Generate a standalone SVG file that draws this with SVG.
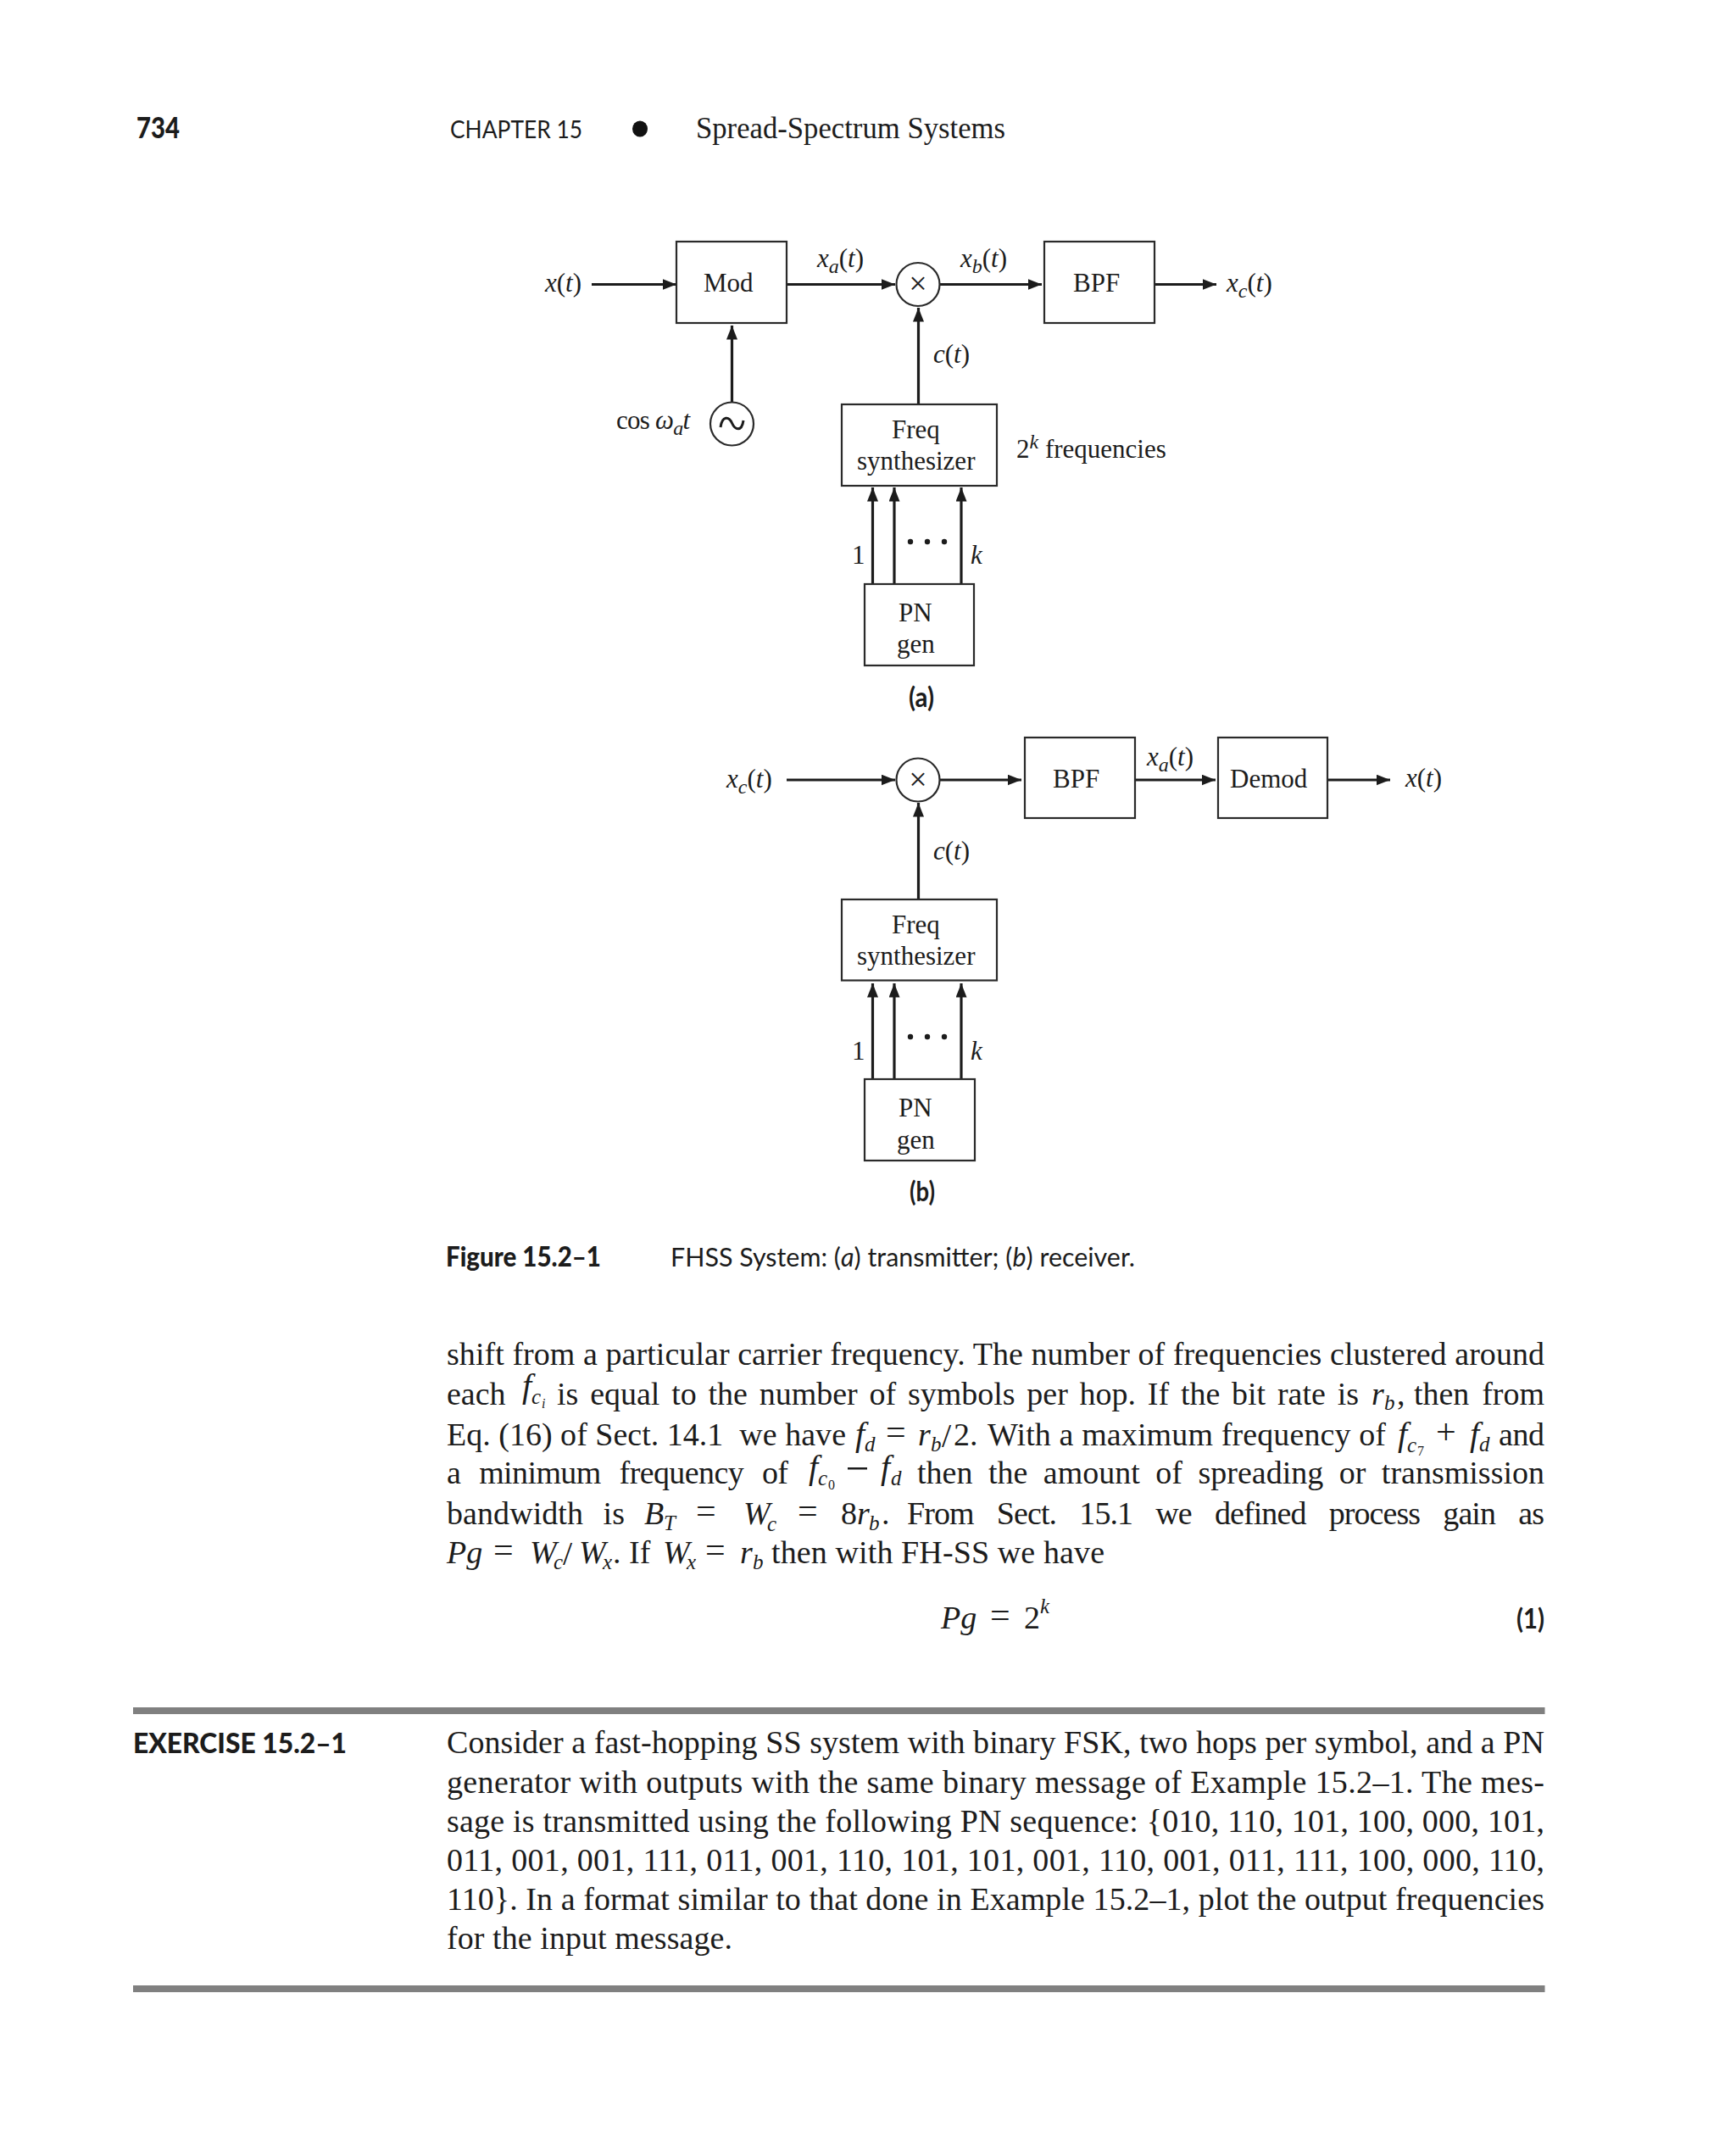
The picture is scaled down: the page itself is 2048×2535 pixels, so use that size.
<svg xmlns="http://www.w3.org/2000/svg" width="2048" height="2535" viewBox="0 0 2048 2535">
<style>
text{fill:#1c1c1c;font-family:"Liberation Serif","Times New Roman",serif;white-space:pre}
.d{font-size:31px}
.b{font-size:38px}
.i{font-style:italic}
.s{font-family:Lato,"Open Sans",sans-serif}
.sb{font-family:Lato,"Open Sans",sans-serif;font-weight:900}
.sub{font-size:24px;font-style:italic}
.bsub{font-size:25px;font-style:italic}
.f{font-size:40px;font-style:italic}
.ssub{font-size:16px;font-style:italic}
.ss0{font-size:16px}
.eq{font-size:42px}
.x{font-size:38px}
.box{fill:#fff;stroke:#2a2a2a;stroke-width:2.2}
.con{fill:none;stroke:#1c1c1c;stroke-width:3.2;marker-end:url(#ah)}
.rule{fill:#808080}
</style>
<defs>
<marker id="ah" markerUnits="userSpaceOnUse" markerWidth="18" markerHeight="14" refX="16.500" refY="6.500" orient="auto"><path d="M0,0L16.500,6.500L0,13z" fill="#1c1c1c"/></marker>
</defs>
<rect width="2048" height="2535" fill="#fff"/>
<g id="header">
<text class="sb" x="161" y="163" font-size="35" textLength="51" lengthAdjust="spacingAndGlyphs">734</text>
<text class="s" x="531" y="163" font-size="29" textLength="156" lengthAdjust="spacingAndGlyphs">CHAPTER 15</text>
<ellipse cx="755" cy="152" rx="9" ry="9.500" fill="#111"/>
<text x="821" y="163" font-size="36" textLength="365" lengthAdjust="spacingAndGlyphs">Spread-Spectrum Systems</text>
</g>
<g id="connectors">
<path class="con" d="M698,335.5H798"/>
<path class="con" d="M928,335.5H1056"/>
<path class="con" d="M1109,335.5H1229"/>
<path class="con" d="M1362,335.5H1435"/>
<path class="con" d="M863.5,474V384"/>
<path class="con" d="M1083.5,477V363"/>
<path class="con" d="M1029.5,689V575"/>
<path class="con" d="M1055,689V575"/>
<path class="con" d="M1134,689V575"/>
<path class="con" d="M928,920H1056"/>
<path class="con" d="M1109,920H1205"/>
<path class="con" d="M1339,920H1434"/>
<path class="con" d="M1566,920H1640"/>
<path class="con" d="M1083.5,1061V947"/>
<path class="con" d="M1029.5,1273V1160"/>
<path class="con" d="M1055,1273V1160"/>
<path class="con" d="M1134,1273V1160"/>
</g>
<g id="a-mod"><rect class="box" x="798" y="285" width="130" height="96"/><text class="d" x="830" y="344">Mod</text></g>
<g id="a-mixer"><circle class="box" cx="1083" cy="335.5" r="25.5"/><text class="x" x="1083" y="347" text-anchor="middle">×</text></g>
<g id="a-bpf"><rect class="box" x="1232" y="285" width="130" height="96"/><text class="d" x="1266" y="344">BPF</text></g>
<g id="a-osc"><circle class="box" cx="863.5" cy="500" r="25.5"/><path d="M850,504C852,490 860,491 863.500,499S875,510 877,496" fill="none" stroke="#1c1c1c" stroke-width="3"/></g>
<g id="a-freq"><rect class="box" x="993" y="477" width="183" height="96"/><text class="d" x="1052" y="517">Freq</text><text class="d" x="1011" y="554">synthesizer</text></g>
<g id="a-pn"><rect class="box" x="1020" y="689" width="129" height="96"/><text class="d" x="1060" y="733">PN</text><text class="d" x="1058" y="770">gen</text></g>
<g id="a-labels">
<text class="d" x="643" y="344"><tspan class="i">x</tspan>(<tspan class="i">t</tspan>)</text>
<text class="d" x="964" y="315"><tspan class="i">x</tspan><tspan class="sub" dy="7">a</tspan><tspan dy="-7">(</tspan><tspan class="i">t</tspan>)</text>
<text class="d" x="1133" y="315"><tspan class="i">x</tspan><tspan class="sub" dy="7">b</tspan><tspan dy="-7">(</tspan><tspan class="i">t</tspan>)</text>
<text class="d" x="1447" y="344"><tspan class="i">x</tspan><tspan class="sub" dy="7">c</tspan><tspan dy="-7">(</tspan><tspan class="i">t</tspan>)</text>
<text class="d" x="1101" y="428"><tspan class="i">c</tspan>(<tspan class="i">t</tspan>)</text>
<text class="d" x="727" y="506" textLength="87">cos <tspan class="i">ω</tspan><tspan class="sub" dy="7">a</tspan><tspan class="i" dy="-7">t</tspan></text>
<text class="d" x="1199" y="540">2<tspan class="sub" dy="-11">k</tspan><tspan dy="11"> frequencies</tspan></text>
<text class="d" x="1005" y="665">1</text>
<text class="d i" x="1145" y="665">k</text>
<g fill="#1c1c1c"><circle cx="1074" cy="639" r="3.2"/><circle cx="1094" cy="639" r="3.2"/><circle cx="1114" cy="639" r="3.2"/></g>
<text class="sb" x="1072" y="834" font-size="33" style="font-weight:700" textLength="30" lengthAdjust="spacingAndGlyphs">(a)</text>
</g>
<g id="b-mixer"><circle class="box" cx="1083" cy="920" r="25.5"/><text class="x" x="1083" y="931.500" text-anchor="middle">×</text></g>
<g id="b-bpf"><rect class="box" x="1209" y="870" width="130" height="95"/><text class="d" x="1242" y="929">BPF</text></g>
<g id="b-demod"><rect class="box" x="1437" y="870" width="129" height="95"/><text class="d" x="1451" y="929">Demod</text></g>
<g id="b-freq"><rect class="box" x="993" y="1061" width="183" height="95.500"/><text class="d" x="1052" y="1101">Freq</text><text class="d" x="1011" y="1138">synthesizer</text></g>
<g id="b-pn"><rect class="box" x="1020" y="1273" width="130" height="96"/><text class="d" x="1060" y="1317">PN</text><text class="d" x="1058" y="1355">gen</text></g>
<g id="b-labels">
<text class="d" x="857" y="929"><tspan class="i">x</tspan><tspan class="sub" dy="7">c</tspan><tspan dy="-7">(</tspan><tspan class="i">t</tspan>)</text>
<text class="d" x="1353" y="903"><tspan class="i">x</tspan><tspan class="sub" dy="7">a</tspan><tspan dy="-7">(</tspan><tspan class="i">t</tspan>)</text>
<text class="d" x="1658" y="928"><tspan class="i">x</tspan>(<tspan class="i">t</tspan>)</text>
<text class="d" x="1101" y="1014"><tspan class="i">c</tspan>(<tspan class="i">t</tspan>)</text>
<text class="d" x="1005" y="1250">1</text>
<text class="d i" x="1145" y="1250">k</text>
<g fill="#1c1c1c"><circle cx="1074" cy="1223" r="3.2"/><circle cx="1094" cy="1223" r="3.2"/><circle cx="1114" cy="1223" r="3.2"/></g>
<text class="sb" x="1073" y="1417" font-size="33" style="font-weight:700" textLength="30" lengthAdjust="spacingAndGlyphs">(b)</text>
</g>
<g id="caption">
<text class="sb" x="526" y="1494" font-size="33" textLength="183" lengthAdjust="spacingAndGlyphs">Figure 15.2–1</text>
<text class="s" x="791" y="1494" font-size="31" textLength="548" lengthAdjust="spacingAndGlyphs">FHSS System: (<tspan class="i">a</tspan>) transmitter; (<tspan class="i">b</tspan>) receiver.</text>
</g>
<g id="body">
<text class="b" x="527" y="1610" textLength="1295">shift from a particular carrier frequency. The number of frequencies clustered around</text>
<text class="b" x="527" y="1657">each</text>
<text class="f" x="616" y="1648">f</text><text class="bsub" x="627" y="1656">c</text><text class="ssub" x="639" y="1661">i</text>
<text class="b" x="657" y="1657" word-spacing="4.300" textLength="946">is equal to the number of symbols per hop. If the bit rate is</text>
<text class="b i" x="1618" y="1657">r</text><text class="bsub" x="1633" y="1663">b</text><text class="b" x="1648" y="1657">,</text>
<text class="b" x="1668" y="1657" textLength="154" word-spacing="5.500">then from</text>

<text class="b" x="527" y="1705" textLength="471">Eq. (16) of Sect. 14.1&#160; we have</text>
<text class="f" x="1009" y="1705">f</text><text class="bsub" x="1020" y="1712">d</text>
<text class="eq" x="1045" y="1703">=</text>
<text class="b i" x="1083" y="1705">r</text><text class="bsub" x="1098" y="1712">b</text>
<text class="f" x="1111" y="1707" style="font-style:normal">/</text><text class="b" x="1125" y="1705">2.</text>
<text class="b" x="1165" y="1705" textLength="470">With a maximum frequency of</text>
<text class="f" x="1649" y="1705">f</text><text class="bsub" x="1660" y="1713">c</text><text class="ss0" x="1672" y="1717">7</text>
<text class="eq" x="1694" y="1703">+</text>
<text class="f" x="1734" y="1705">f</text><text class="bsub" x="1745" y="1712">d</text>
<text class="b" x="1768" y="1705" textLength="54">and</text>

<text class="b" x="527" y="1750" textLength="403" word-spacing="13">a minimum frequency of</text>
<text class="f" x="954" y="1744">f</text><text class="bsub" x="965" y="1752">c</text><text class="ss0" x="977" y="1757">0</text>
<rect x="1000" y="1731" width="23" height="2.500" fill="#1c1c1c"/>
<text class="f" x="1039" y="1744">f</text><text class="bsub" x="1051" y="1752">d</text>
<text class="b" x="1082" y="1750" textLength="740" word-spacing="9">then the amount of spreading or transmission</text>

<text class="b" x="527" y="1798" textLength="210" word-spacing="14">bandwidth is</text>
<text class="b i" x="760" y="1798">B</text><text class="bsub" x="783" y="1805">T</text>
<text class="eq" x="821" y="1796">=</text>
<text class="b i" x="877" y="1798">W</text><text class="bsub" x="905" y="1806">c</text>
<text class="eq" x="941" y="1796">=</text>
<text class="b" x="992" y="1798">8</text><text class="b i" x="1011" y="1798">r</text><text class="bsub" x="1025" y="1805">b</text><text class="b" x="1040" y="1798">.</text>
<text class="b" x="1070" y="1798" textLength="752" word-spacing="18.600">From Sect. 15.1 we defined process gain as</text>

<text class="b i" x="527" y="1844">Pg</text>
<text class="eq" x="582" y="1842">=</text>
<text class="b i" x="625" y="1844">W</text><text class="bsub" x="653" y="1851">c</text><text class="f" x="664" y="1846" style="font-style:normal">/</text>
<text class="b i" x="683" y="1844">W</text><text class="bsub" x="711" y="1851">x</text><text class="b" x="723" y="1844">.</text>
<text class="b" x="742" y="1844">If</text>
<text class="b i" x="782" y="1844">W</text><text class="bsub" x="810" y="1851">x</text>
<text class="eq" x="832" y="1842">=</text>
<text class="b i" x="873" y="1844">r</text><text class="bsub" x="888" y="1851">b</text>
<text class="b" x="910" y="1844" textLength="393">then with FH-SS we have</text>

<text class="b i" x="1110" y="1921">Pg</text>
<text class="eq" x="1168" y="1919">=</text>
<text class="b" x="1208" y="1921">2</text><text class="bsub" x="1227" y="1903">k</text>
<text class="sb" x="1789" y="1921" font-size="33" style="font-weight:700" textLength="33" lengthAdjust="spacingAndGlyphs">(1)</text>
</g>
<g id="exercise">
<rect class="rule" x="157" y="2014" width="1665.500" height="8"/>
<text class="sb" x="157" y="2068" font-size="33" textLength="252" lengthAdjust="spacingAndGlyphs">EXERCISE 15.2–1</text>
<text class="b" x="527" y="2068" textLength="1295">Consider a fast-hopping SS system with binary FSK, two hops per symbol, and a PN</text>
<text class="b" x="527" y="2115" textLength="1295">generator with outputs with the same binary message of Example 15.2–1. The mes-</text>
<text class="b" x="527" y="2161" textLength="1295">sage is transmitted using the following PN sequence: {010, 110, 101, 100, 000, 101,</text>
<text class="b" x="527" y="2207" textLength="1295">011, 001, 001, 111, 011, 001, 110, 101, 101, 001, 110, 001, 011, 111, 100, 000, 110,</text>
<text class="b" x="527" y="2253" textLength="1295">110}. In a format similar to that done in Example 15.2–1, plot the output frequencies</text>
<text class="b" x="527" y="2299" textLength="337">for the input message.</text>
<rect class="rule" x="157" y="2342" width="1665.500" height="8"/>
</g>
</svg>
